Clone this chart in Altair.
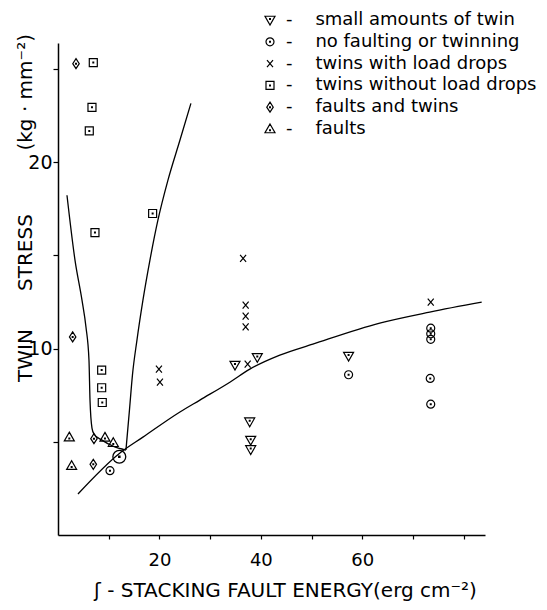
import altair as alt
import pandas as pd

# ---------------- data ----------------
categories = ["small amounts of twin", "no faulting or twinning", "twins with load drops",
              "twins without load drops", "faults and twins", "faults"]

small_x = [34.9, 39.3, 37.8, 38.0, 38.0, 57.3]
small_y = [9.12, 9.53, 6.08, 5.09, 4.59, 9.6]

nofault_x = [10.25, 57.3, 73.5, 73.5, 73.5, 73.4, 73.5]
nofault_y = [3.45, 8.6, 11.1, 10.8, 10.5, 8.4, 7.02]

big_circle_x = [12.09]
big_circle_y = [4.2]

drops_x = [36.5, 37.0, 37.0, 37.0, 37.4, 73.5, 19.9, 20.1]
drops_y = [14.84, 12.33, 11.74, 11.17, 9.17, 12.5, 8.9, 8.2]

nodrops_x = [6.96, 6.70, 6.17, 7.29, 18.66, 8.61, 8.61, 8.73]
nodrops_y = [25.35, 22.95, 21.68, 16.23, 17.25, 8.85, 7.9, 7.11]

ft_x = [3.55, 2.89, 7.09, 6.96]
ft_y = [25.29, 10.63, 5.17, 3.79]

faults_x = [2.23, 9.26, 10.90, 2.69]
faults_y = [5.25, 5.24, 4.95, 3.72]

# boundary curves
left_x = [1.77, 3.35, 4.73, 5.52, 6.11, 6.31, 6.70, 7.09, 8.67, 10.84, 13.40]
left_y = [18.23, 14.75, 12.60, 11.15, 9.38, 7.24, 5.74, 5.42, 5.09, 4.77, 4.56]
right_x = [13.40, 14.09, 14.68, 15.57, 16.75, 18.13, 19.70, 21.67, 24.04, 26.21]
right_y = [4.56, 6.70, 8.58, 10.46, 12.60, 14.75, 16.89, 19.03, 21.18, 23.16]
long_x = [3.94, 12.22, 16.75, 24.04, 27.98, 33.89, 37.83, 43.74, 50.25, 63.45, 73.30, 83.55]
long_y = [2.20, 4.40, 5.25, 6.60, 7.24, 8.20, 8.90, 9.65, 10.24, 11.37, 11.96, 12.49]

x_ticks = [10, 20, 30, 40, 50, 60, 70, 80]
y_ticks = [5, 10, 15, 20, 25]

# ---------------- tables ----------------
rows = []
for cat, xs, ys in [(categories[0], small_x, small_y), (categories[1], nofault_x, nofault_y),
                    (categories[2], drops_x, drops_y), (categories[3], nodrops_x, nodrops_y),
                    (categories[4], ft_x, ft_y), (categories[5], faults_x, faults_y)]:
    for a, b in zip(xs, ys):
        rows.append({"cat": cat, "x": a, "y": b})
pts = pd.DataFrame(rows)

big = pd.DataFrame({"x": big_circle_x, "y": big_circle_y})

lrows = []
for cid, xs, ys in [("left", left_x, left_y), ("right", right_x, right_y), ("long", long_x, long_y)]:
    for i, (a, b) in enumerate(zip(xs, ys)):
        lrows.append({"curve": cid, "i": i, "x": a, "y": b})
lines = pd.DataFrame(lrows)

# ---------------- symbols ----------------
dot = lambda cx, cy: f" M{cx-0.08},{cy-0.08}L{cx+0.08},{cy-0.08}L{cx+0.08},{cy+0.08}L{cx-0.08},{cy+0.08}Z"
tri_down = "M-1,-0.75L1,-0.75L0,1Z" + dot(0, -0.2)
circ = "M0.8,0A0.8,0.8 0 1,1 -0.8,0A0.8,0.8 0 1,1 0.8,0Z" + dot(0, 0)
cross = "M-0.6,-0.7L0.6,0.7M-0.6,0.7L0.6,-0.7"
square = "M-0.8,-0.8L0.8,-0.8L0.8,0.8L-0.8,0.8Z" + dot(0, 0)
diamond = "M0,-1L0.65,0L0,1L-0.65,0Z" + dot(0, 0)
tri_up = "M0,-1L1,0.75L-1,0.75Z" + dot(0, 0.25)
shape_paths = [tri_down, circ, cross, square, diamond, tri_up]

FONT = "DejaVu Sans"
NB = "\u00a0"

x_title = "ʃ - STACKING FAULT ENERGY(erg cm⁻²)"
y_title = "TWIN" + NB * 6 + "STRESS" + NB * 10 + "(kg · mm⁻²)"

x_enc = alt.X("x:Q", scale=alt.Scale(domain=[0, 84.2], nice=False, zero=False),
              axis=alt.Axis(values=x_ticks,
                            labelExpr="(datum.value==20||datum.value==40||datum.value==60) ? datum.label : ''",
                            title=x_title, titleX=227, titleY=61, titleAlign="center",
                            titleBaseline="alphabetic", titleFontSize=20, titleFont=FONT,
                            titleFontWeight="normal", titleColor="black",
                            labelFontSize=18, labelFont=FONT, labelColor="black", labelPadding=12,
                            labelFlush=False, tickSize=4, tickWidth=1.2, tickColor="black",
                            domainColor="black", domainWidth=1.5, grid=False))
y_enc = alt.Y("y:Q", scale=alt.Scale(domain=[0, 26.4], nice=False, zero=False),
              axis=alt.Axis(values=y_ticks,
                            labelExpr="datum.value % 10 == 0 ? datum.label : ''",
                            title=y_title, titleAngle=270, titleX=-33, titleY=164.5,
                            titleAlign="center", titleBaseline="middle", titleFontSize=20,
                            titleFont=FONT, titleFontWeight="normal", titleColor="black",
                            labelFontSize=19, labelFont=FONT, labelColor="black", labelPadding=1,
                            tickSize=5, tickWidth=1.2, tickColor="black",
                            domainColor="black", domainWidth=1.5, grid=False))

line_layer = alt.Chart(lines).mark_line(color="black", strokeWidth=1.3, interpolate="monotone").encode(
    x=x_enc, y=y_enc, detail="curve:N", order="i:Q")

point_layer = alt.Chart(pts).mark_point(filled=False, color="black", strokeWidth=1.2, size=100, opacity=1).encode(
    x=x_enc, y=y_enc,
    shape=alt.Shape("cat:N", scale=alt.Scale(domain=categories, range=shape_paths),
                    legend=alt.Legend(title=None, orient="none", legendX=203, legendY=-32,
                                      direction="vertical", labelFontSize=18, labelFont=FONT,
                                      labelColor="black", labelLimit=400, labelOffset=7,
                                      labelExpr="'-" + NB * 4 + "' + datum.label",
                                      symbolSize=100, symbolStrokeWidth=1.2, symbolStrokeColor="black",
                                      symbolFillColor="transparent", rowPadding=3.8, padding=0)))

big_layer = alt.Chart(big).mark_point(shape=circ, size=260, filled=False, color="black",
                                      strokeWidth=1.3, opacity=1).encode(x=x_enc, y=y_enc)

chart = alt.layer(line_layer, point_layer, big_layer).properties(
    width=427, height=492,
    autosize=alt.AutoSizeParams(type="none"),
    padding={"left": 50, "top": 35, "right": 54, "bottom": 67},
).configure_view(stroke=None)

chart.save("out.html", embed_options={"renderer": "svg", "actions": False})
